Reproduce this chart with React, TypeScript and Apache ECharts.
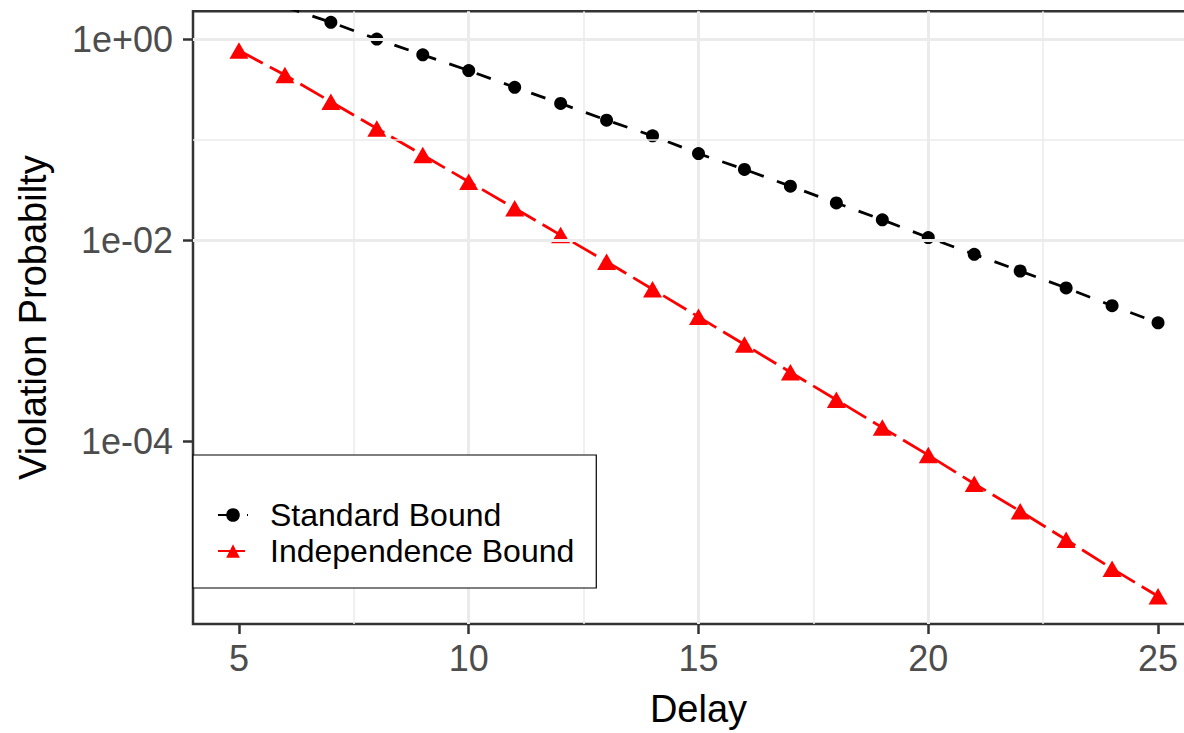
import React, { useEffect, useRef } from 'react';
import * as echarts from 'echarts';

// Delay values (x) for each series
const standardDelays = [6, 7, 8, 9, 10, 11, 12, 13, 14, 15, 16, 17, 18, 19, 20, 21, 22, 23, 24, 25];
const independenceDelays = [5, 6, 7, 8, 9, 10, 11, 12, 13, 14, 15, 16, 17, 18, 19, 20, 21, 22, 23, 24, 25];

// Violation probabilities
const standardBound = [
  2.09, 1.47, 1.0, 0.697, 0.486, 0.331, 0.229, 0.156, 0.109, 0.0725,
  0.0505, 0.0344, 0.0234, 0.0159, 0.0106, 0.00721, 0.00492, 0.00334, 0.00222, 0.00150,
];
const independenceBound = [
  0.77, 0.438, 0.238, 0.129, 0.0701, 0.0381, 0.0207, 0.0112, 0.00609, 0.00324,
  0.00172, 0.000912, 0.000484, 0.000257, 0.000136, 7.24e-5, 3.76e-5, 2.0e-5, 1.04e-5, 5.37e-6, 2.85e-6,
];

// Axis ticks and limits
const xTicks = [5, 10, 15, 20, 25];
const xMin = 4;
const xMax = 26;
const yMajorTicks = [1, 1e-2, 1e-4];
const yMinorGrid = [1e-1, 1e-3, 1e-5];
const yMin = 1.51e-6;
const yMax = 1.89;

const seriesNames = ['Standard Bound', 'Independence Bound'];

const FONT = "'Liberation Sans', Arial, Helvetica, sans-serif";

function formatPow(v: number): string {
  const l = Math.log10(v);
  const e = Math.round(l);
  if (Math.abs(l - e) > 1e-6 || e % 2 !== 0) return '';
  const s = e >= 0 ? '+' : '-';
  return `1e${s}${String(Math.abs(e)).padStart(2, '0')}`;
}

export default function App() {
  const ref = useRef<HTMLDivElement>(null);

  useEffect(() => {
    if (!ref.current) return;
    const chart = echarts.init(ref.current, undefined, { renderer: 'svg' });

    const option: any = {
      animation: false,
      backgroundColor: '#ffffff',
      textStyle: { fontFamily: FONT },
      grid: {
        left: 193,
        right: 6,
        top: 11.3,
        bottom: 100.7,
        show: true,
        borderColor: '#333333',
        borderWidth: 2.5,
        backgroundColor: 'transparent',
        containLabel: false,
      },
      legend: {
        data: seriesNames,
        orient: 'vertical',
        left: 193,
        top: 455,
        padding: [42, 22, 19, 24],
        itemGap: 0,
        itemWidth: 30,
        itemHeight: 17,
        backgroundColor: '#ffffff',
        borderColor: '#000000',
        borderWidth: 1.2,
        borderRadius: 0,
        selectedMode: false,
        textStyle: {
          fontSize: 32,
          color: '#000000',
          fontFamily: FONT,
          lineHeight: 36,
          padding: [0, 0, 0, 17],
        },
      },
      xAxis: {
        type: 'value',
        min: xMin,
        max: xMax,
        axisLine: { show: false },
        axisTick: {
          show: true,
          length: 10,
          customValues: xTicks,
          lineStyle: { color: '#333333', width: 2.5 },
        },
        axisLabel: {
          customValues: xTicks,
          margin: 16,
          fontSize: 36,
          color: '#4D4D4D',
          fontFamily: FONT,
          formatter: (v: number) => (xTicks.indexOf(v) >= 0 ? String(v) : ''),
        },
        splitLine: {
          show: true,
          showMinLine: false,
          showMaxLine: false,
          lineStyle: { color: '#EBEBEB', width: 3 },
        },
        minorTick: { show: false, splitNumber: 2 },
        minorSplitLine: { show: true, lineStyle: { color: '#EBEBEB', width: 1.5 } },
        name: 'Delay',
        nameLocation: 'middle',
        nameGap: 85,
        nameTextStyle: { fontSize: 38, color: '#000000', fontFamily: FONT, verticalAlign: 'middle' },
      },
      yAxis: {
        type: 'log',
        logBase: 10,
        min: yMin,
        max: yMax,
        axisLine: { show: false },
        axisTick: {
          show: true,
          length: 10,
          customValues: yMajorTicks,
          lineStyle: { color: '#333333', width: 2.5 },
        },
        axisLabel: {
          customValues: yMajorTicks,
          margin: 20,
          fontSize: 36,
          color: '#4D4D4D',
          fontFamily: FONT,
          formatter: formatPow,
        },
        splitLine: {
          show: true,
          showMinLine: false,
          showMaxLine: false,
          lineStyle: { color: '#EBEBEB', width: 1.5 },
        },
        name: 'Violation Probabilty',
        nameLocation: 'middle',
        nameGap: 160,
        nameTextStyle: { fontSize: 38, color: '#000000', fontFamily: FONT, verticalAlign: 'middle' },
      },
      series: [
        {
          name: '_grid',
          type: 'line',
          data: [],
          silent: true,
          z: 1,
          markLine: {
            silent: true,
            animation: false,
            symbol: ['none', 'none'],
            label: { show: false },
            emphasis: { disabled: true },
            lineStyle: { color: '#EBEBEB', type: 'solid' },
            data: [
              ...yMajorTicks.map((v) => ({ yAxis: v, lineStyle: { color: '#EBEBEB', type: 'solid', width: 3 } })),
              ...yMinorGrid.map((v) => ({ yAxis: v, lineStyle: { color: '#EBEBEB', type: 'solid', width: 1.5 } })),
            ],
          },
        },
        {
          name: seriesNames[0],
          type: 'line',
          z: 3,
          data: standardDelays.map((d, i) => [d, standardBound[i]]),
          symbol: 'circle',
          symbolSize: 13,
          color: '#000000',
          itemStyle: { color: '#000000' },
          lineStyle: { color: '#000000', width: 2.8, type: [15, 14] },
          emphasis: { disabled: true },
        },
        {
          name: seriesNames[1],
          type: 'line',
          z: 2,
          data: independenceDelays.map((d, i) => [d, independenceBound[i]]),
          symbol: 'triangle',
          symbolSize: [19, 16.5],
          color: '#FF0000',
          itemStyle: { color: '#FF0000' },
          lineStyle: { color: '#FF0000', width: 2.8, type: [27, 8] },
          emphasis: { disabled: true },
        },
      ],
    };

    chart.setOption(option);
    return () => {
      chart.dispose();
    };
  }, []);

  return (
    <div
      style={{ position: 'absolute', left: 0, top: 0, width: 1184, height: 733, overflow: 'hidden' }}
    >
      <div ref={ref} style={{ width: 1210, height: 733 }} />
    </div>
  );
}
